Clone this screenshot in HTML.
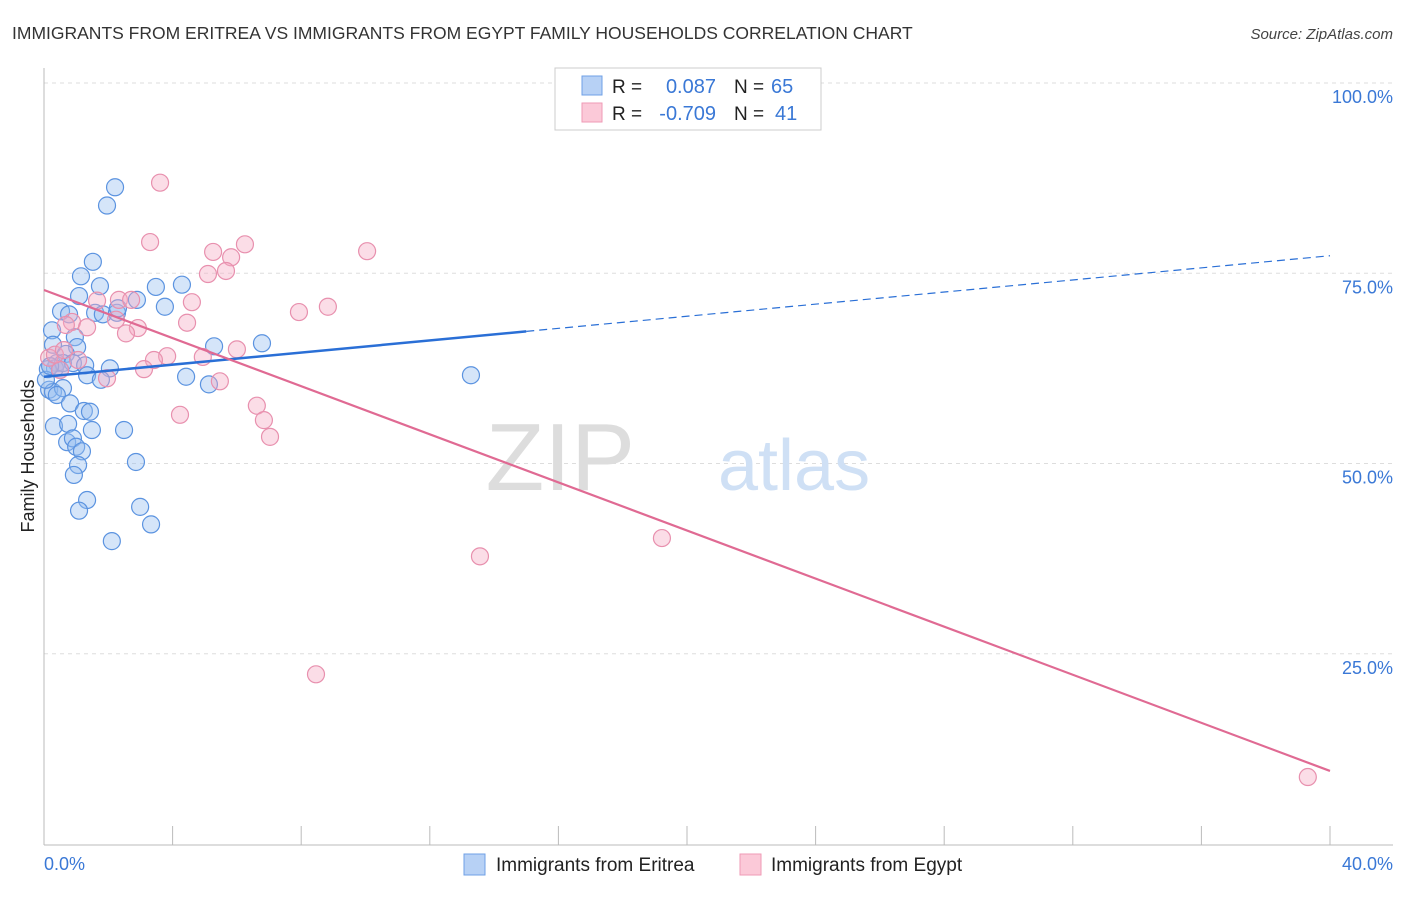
<!DOCTYPE html>
<html><head><meta charset="utf-8"><style>
body{margin:0;background:#fff;font-family:"Liberation Sans",sans-serif}
svg text{font-family:"Liberation Sans",sans-serif}
</style></head><body>
<svg id="c" width="1406" height="892" xmlns="http://www.w3.org/2000/svg">
<text x="12" y="39" font-size="17.5" fill="#333">IMMIGRANTS FROM ERITREA VS IMMIGRANTS FROM EGYPT FAMILY HOUSEHOLDS CORRELATION CHART</text>
<text x="1393" y="39" font-size="15" fill="#444" font-style="italic" text-anchor="end">Source: ZipAtlas.com</text>
<g id="grid"></g>
<g><text x="635" y="490" font-size="96" font-family="Liberation Serif,serif" fill="#ddd" text-anchor="end">ZIP</text><text x="718" y="490" font-size="72" fill="#cfe0f5">atlas</text></g>
<line x1="44" y1="68" x2="44" y2="845" stroke="#bbb"/>
<line x1="44" y1="845" x2="1393" y2="845" stroke="#bbb"/>
<g id="ticks"></g>
<g id="ylabels"></g>
<text x="44" y="870" font-size="18" fill="#3a78d6">0.0%</text>
<text x="1393" y="870" font-size="18" fill="#3a78d6" text-anchor="end">40.0%</text>
<text transform="translate(34,456) rotate(-90)" font-size="18" fill="#222" text-anchor="middle">Family Households</text>
<g id="pts"></g>
<g id="lines"></g>
<g>
<rect x="555" y="68" width="266" height="62" fill="#fff" stroke="#ccc"/>
<rect x="582" y="76" width="20" height="19" fill="#b7d1f5" stroke="#6fa0e6"/>
<rect x="582" y="103" width="20" height="19" fill="#fbc9d8" stroke="#ef9ab6"/>
<text x="612" y="93" font-size="19" fill="#222">R = </text><text x="716" y="93" font-size="20" fill="#3a78d6" text-anchor="end">0.087</text>
<text x="734" y="93" font-size="19" fill="#222">N = </text><text x="771" y="93" font-size="20" fill="#3a78d6">65</text>
<text x="612" y="120" font-size="19" fill="#222">R = </text><text x="716" y="120" font-size="20" fill="#3a78d6" text-anchor="end">-0.709</text>
<text x="734" y="120" font-size="19" fill="#222">N = </text><text x="775" y="120" font-size="20" fill="#3a78d6">41</text>
</g>
<g>
<rect x="464" y="854" width="21" height="21" fill="#b7d1f5" stroke="#6fa0e6"/>
<text x="496" y="871" font-size="19" fill="#222">Immigrants from Eritrea</text>
<rect x="740" y="854" width="21" height="21" fill="#fbc9d8" stroke="#ef9ab6"/>
<text x="771" y="871" font-size="19" fill="#222">Immigrants from Egypt</text>
</g>
</svg>
<script>
const yTicks=[25,50,75,100];
const yTickLabels=["25.0%","50.0%","75.0%","100.0%"];
const xTicks=[4,8,12,16,20,24,28,32,36,40];
const eritreaX=[2.21,1.96,1.52,1.15,1.74,3.48,4.29,1.09,2.89,3.76,0.53,0.78,1.59,1.83,2.27,2.30,0.25,0.96,1.03,5.29,6.78,0.28,0.68,0.40,0.34,0.59,0.12,0.90,1.28,2.05,1.34,1.77,4.42,5.13,13.28,0.16,0.28,0.59,0.40,0.81,1.24,1.43,0.31,0.75,1.49,2.49,0.72,0.90,1.00,1.18,1.06,2.86,0.93,1.34,2.99,1.09,3.33,2.11,0.06,0.19,0.50];
const eritreaY=[86.3,83.9,76.5,74.6,73.3,73.2,73.5,72.0,71.5,70.6,70.0,69.6,69.8,69.6,69.8,70.4,67.5,66.6,65.3,65.4,65.8,65.6,64.4,63.2,62.5,63.2,62.4,63.2,62.9,62.5,61.6,61.0,61.4,60.4,61.6,59.7,59.4,59.9,59.0,57.9,56.9,56.8,54.9,55.2,54.4,54.4,52.8,53.3,52.2,51.6,49.8,50.2,48.5,45.2,44.3,43.8,42.0,39.8,61.0,62.8,62.3];
const egyptX=[3.61,3.30,6.25,5.26,5.82,10.05,5.66,5.10,2.33,2.71,1.65,4.60,8.83,7.93,2.24,0.87,2.92,1.34,4.45,2.55,0.68,6.00,3.83,4.94,3.42,3.11,1.06,1.96,5.47,0.50,0.16,6.62,6.84,7.03,4.23,19.22,13.56,8.46,39.31,0.34,0.62];
const egyptY=[86.9,79.1,78.8,77.8,77.1,77.9,75.3,74.9,71.5,71.5,71.4,71.2,70.6,69.9,68.9,68.6,67.8,67.9,68.5,67.1,68.2,65.0,64.1,64.0,63.6,62.4,63.6,61.2,60.8,62.3,63.9,57.6,55.7,53.5,56.4,40.2,37.8,22.3,8.8,64.3,64.9];
const eritreaTrend=[61.4,77.3];
const egyptTrend=[72.8,9.6];
const eritreaSolidEnd=15.0;
const NS="http://www.w3.org/2000/svg";
const sx=v=>44+v/40*1286;
const sy=v=>844-v/100*761;
function mk(t,a,p){const e=document.createElementNS(NS,t);for(const k in a)e.setAttribute(k,a[k]);p.appendChild(e);return e;}
const grid=document.getElementById('grid'),yl=document.getElementById('ylabels'),tk=document.getElementById('ticks');
yTicks.forEach((v,i)=>{
 const l=mk('line',{x1:44,x2:1393,y1:sy(v),y2:sy(v),stroke:'#ddd','stroke-dasharray':'4,4'},grid);
 
 
 const t=mk('text',{x:1393,y:sy(v)+20,'font-size':18,fill:'#3a78d6','text-anchor':'end'},yl);
 t.textContent=yTickLabels[i];
 
 
});
xTicks.forEach(v=>{
 const l=mk('line',{x1:sx(v),x2:sx(v),y1:826,y2:845,stroke:'#bbb'},tk);
 
 
});
const pts=document.getElementById('pts');
eritreaX.forEach((x,i)=>{
 const c=mk('circle',{cx:sx(x),cy:sy(eritreaY[i]),r:8.5,fill:'rgba(150,190,240,0.4)',stroke:'#5b93e0','stroke-width':1.2},pts);
 
 
});
egyptX.forEach((x,i)=>{
 const c=mk('circle',{cx:sx(x),cy:sy(egyptY[i]),r:8.5,fill:'rgba(245,170,195,0.4)',stroke:'#e890ae','stroke-width':1.2},pts);
 
 
});
const ln=document.getElementById('lines');
const by=x=>eritreaTrend[0]+(eritreaTrend[1]-eritreaTrend[0])*x/40;
let a=mk('line',{x1:sx(0),y1:sy(by(0)),x2:sx(eritreaSolidEnd),y2:sy(by(eritreaSolidEnd)),stroke:'#2a6fd6','stroke-width':2.5},ln);


let b=mk('line',{x1:sx(eritreaSolidEnd),y1:sy(by(eritreaSolidEnd)),x2:sx(40),y2:sy(by(40)),stroke:'#2a6fd6','stroke-width':1.2,'stroke-dasharray':'8,5'},ln);


let p=mk('line',{x1:sx(0),y1:sy(egyptTrend[0]),x2:sx(40),y2:sy(egyptTrend[1]),stroke:'#e06a93','stroke-width':2.2},ln);


</script>
</body></html>
